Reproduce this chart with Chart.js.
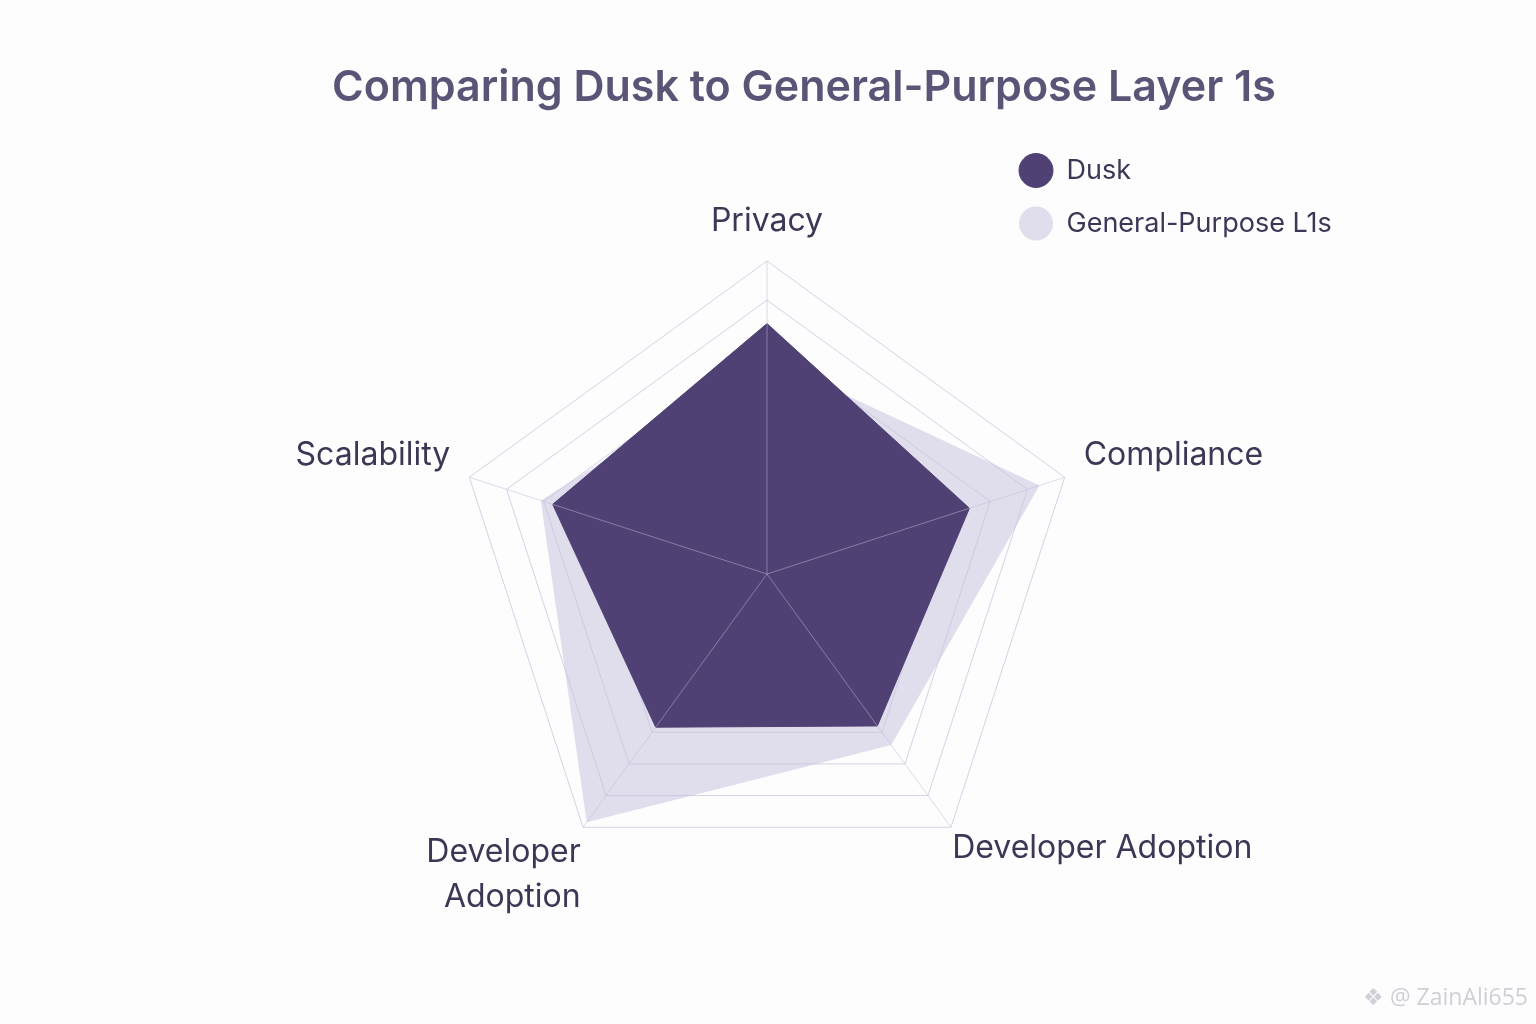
<!DOCTYPE html>
<html>
<head>
<meta charset="utf-8">
<script src="https://cdn.jsdelivr.net/npm/chart.js@4.4.1/dist/chart.umd.min.js"></script>
<style>
  html, body { margin: 0; padding: 0; background: #fdfdfe; }
  #wrap { position: relative; width: 1536px; height: 1024px; }
  #mark { position: absolute; right: 8px; bottom: 12px; font-family: "Open Sans", sans-serif; font-size: 23px; color: #cfcfd8; }
</style>
</head>
<body>
<div id="wrap">
  <canvas id="c" width="1536" height="1024"></canvas>
  <div id="mark">❖ @ ZainAli655</div>
</div>
<script>
const titleText = 'Comparing Dusk to General-Purpose Layer 1s';
const categories = ['Privacy', 'Compliance', 'Developer Adoption', ['Developer', 'Adoption'], 'Scalability'];
const seriesNames = ['Dusk', 'General-Purpose L1s'];
const duskValues = [8.0, 6.8, 6.0, 6.05, 7.2];
const generalValues = [6.9, 9.15, 6.75, 9.8, 7.6];
const scaleMin = 0;
const scaleMax = 10;
const scaleStep = 1.25;

const DUSK = 'rgb(79, 65, 115)';
const GENERAL = 'rgba(200, 195, 222, 0.55)';

const spokes = {
  id: 'spokes',
  afterDatasetsDraw(chart) {
    const s = chart.scales.r;
    const ctx = chart.ctx;
    const r = s.getDistanceFromCenterForValue(s.max);
    ctx.save();
    ctx.strokeStyle = 'rgba(190, 186, 218, 0.5)';
    ctx.lineWidth = 1;
    for (let i = 0; i < chart.data.labels.length; i++) {
      const p = s.getPointPosition(i, r);
      ctx.beginPath();
      ctx.moveTo(s.xCenter, s.yCenter);
      ctx.lineTo(p.x, p.y);
      ctx.stroke();
    }
    ctx.restore();
  }
};

const boxPlace = {
  id: 'boxPlace',
  afterLayout(chart) {
    const lg = chart.legend;
    const w = lg.width, h = lg.height;
    lg.left = 993; lg.right = lg.left + w;
    lg.top = 131; lg.bottom = lg.top + h;
    const tb = chart.titleBlock;
    if (tb) { tb.left += 37; tb.right += 37; }
  }
};

new Chart(document.getElementById('c'), {
  type: 'radar',
  data: {
    labels: categories,
    datasets: [
      { label: seriesNames[0], data: duskValues, backgroundColor: DUSK, borderColor: DUSK, borderWidth: 1, fill: true, pointRadius: 0, pointHoverRadius: 0 },
      { label: seriesNames[1], data: generalValues, backgroundColor: GENERAL, borderColor: 'rgba(0,0,0,0)', borderWidth: 1, fill: true, pointRadius: 0, pointHoverRadius: 0 }
    ]
  },
  options: {
    responsive: false,
    animation: false,
    layout: { padding: { top: 0, left: 167, right: 169, bottom: 93 } },
    elements: { line: { tension: 0 } },
    scales: {
      r: {
        min: scaleMin,
        max: scaleMax,
        ticks: { display: false, stepSize: scaleStep },
        grid: { color: 'rgb(212, 210, 230)', lineWidth: 1 },
        angleLines: { display: false },
        pointLabels: {
          color: '#3b3856',
          padding: (ctx) => ctx.index === 2 ? 2 : (ctx.index === 3 ? 4 : 20),
          font: (ctx) => ({
            family: 'Inter', size: 32, weight: '400',
            lineHeight: ctx.index === 3 ? 1.4 : ((ctx.index === 1 || ctx.index === 4) ? 1.0 : 1.2)
          })
        }
      }
    },
    plugins: {
      title: {
        display: true,
        text: titleText,
        color: '#5a5577',
        font: { family: 'Inter', size: 43, weight: '600' },
        padding: { top: 62, bottom: 73 }
      },
      legend: {
        position: 'chartArea',
        align: 'start',
        labels: {
          usePointStyle: true,
          pointStyle: 'circle',
          pointStyleWidth: 34,
          boxHeight: 24,
          padding: 26,
          color: '#3b3856',
          font: { family: 'Inter', size: 27, weight: '400' }
        }
      },
      tooltip: { enabled: false }
    }
  },
  plugins: [spokes, boxPlace]
});
</script>
</body>
</html>
